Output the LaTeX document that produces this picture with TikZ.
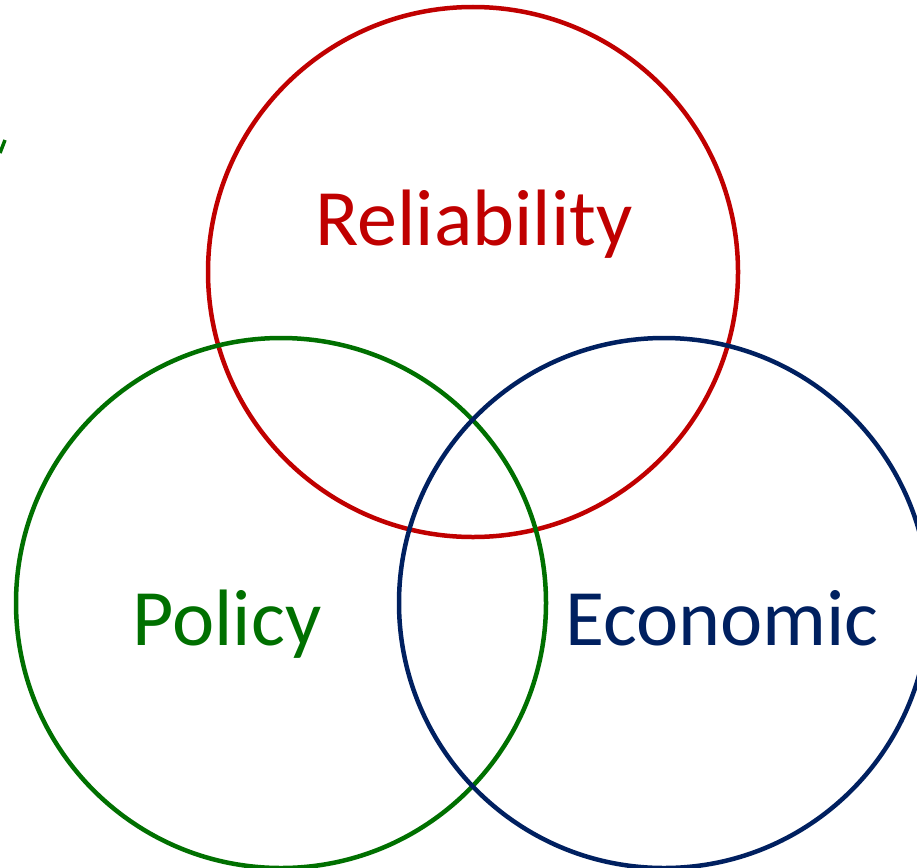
\documentclass[tikz,border=0pt]{standalone}
\usepackage{fontspec}
\setmainfont{Carlito}
\definecolor{relred}{RGB}{192,0,0}
\definecolor{polgreen}{RGB}{0,112,0}
\definecolor{econblue}{RGB}{0,32,96}
\begin{document}
\begin{tikzpicture}[x=1pt,y=-1pt,
  ring/.style={line width=4.5pt},
  lbl/.style={anchor=base,inner sep=0pt,font=\fontsize{80}{90}\selectfont}]
\useasboundingbox (0,0) rectangle (917,867);
\clip (0,0) rectangle (917,867);
\draw[ring,relred] (473,272) circle (265);
\draw[ring,polgreen] (281,603) circle (265);
\draw[ring,econblue] (664,603) circle (265);
\node[lbl,text=relred] (rel) at (474,245) {Reliability};
\node[lbl,text=polgreen] (pol) at (227,645) {Policy};
\node[lbl,text=econblue] (eco) at (722,645) {Economic};
\draw[polgreen,line width=3.5pt] (0,153) -- (5,140);
\end{tikzpicture}
\end{document}
